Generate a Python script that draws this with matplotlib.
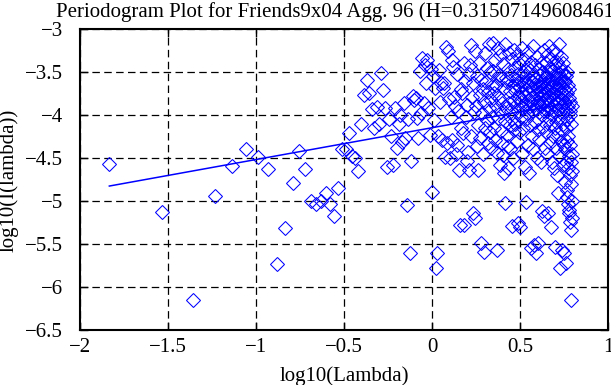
import numpy as np
import matplotlib
matplotlib.use("Agg")
import matplotlib.pyplot as plt

# ---- data ----
title = "Periodogram Plot for Friends9x04 Agg. 96 (H=0.315071496084612)"
x_label = "log10(Lambda)"
y_label = "log10(I(lambda))"

FREQ_N = 428          # length of series -> Fourier frequencies 2*pi*k/N
H = 0.315071496084612
fit_slope = 1 - 2 * H
fit_intercept = -4.148

x_ticks = [-2, -1.5, -1, -0.5, 0, 0.5, 1]
y_ticks = [-6.5, -6, -5.5, -5, -4.5, -4, -3.5, -3]

# log10 periodogram values, in order of frequency index k = 1, 2, ...
logI_k1_40 = [-4.57, -5.13, -6.15, -4.94, -4.59, -4.39, -4.49, -4.63, -5.73, -5.31,
              -4.79, -4.42, -4.63, -5.00, -5.04, -5.00, -4.91, -5.04, -5.17, -4.85,
              -4.39, -4.39, -4.21, -4.48, -4.50, -4.65, -4.11, -3.77, -3.59, -3.75,
              -3.93, -4.15, -3.91, -4.10, -3.51, -3.71, -3.92, -4.60, -4.05, -4.25]
logI_k41_68 = [-4.58, -3.92, -4.38, -4.11, -4.00, -4.31, -3.86, -4.27, -5.05, -4.05,
               -5.60, -4.54, -3.78, -3.82, -3.80, -4.03, -4.27, -3.49, -3.98, -3.34,
               -3.86, -3.42, -3.63, -3.36, -3.92, -4.23, -3.47, -4.90]
logI_k69_100 = [-3.55, -4.06, -3.69, -5.78, -5.61, -4.25, -3.48, -3.85, -3.63, -4.29,
                -3.69, -3.63, -4.49, -3.21, -4.33, -3.26, -3.81, -4.50, -4.02, -3.36,
                -4.29, -3.44, -3.79, -3.90, -4.45, -3.52, -4.35, -3.95, -4.64, -5.28,
                -3.70, -4.15]
logI_k101_150 = [-3.75, -4.21, -5.28, -3.40, -3.61, -4.02, -4.54, -3.88, -4.43, -3.52,
                 -4.64, -3.42, -4.25, -3.19, -3.79, -5.14, -3.63, -3.96, -5.20, -3.26,
                 -3.90, -4.36, -3.55, -4.64, -4.12, -3.40, -3.77, -4.27, -5.49, -3.59,
                 -3.98, -4.45, -3.70, -5.59, -3.85, -3.28, -4.15, -3.62, -4.06, -3.45,
                 -3.73, -4.33, -3.17, -3.92, -4.20, -3.50, -3.83, -4.38, -3.66, -4.02]
logI_k151_200 = [-3.16, -3.49, -4.15, -3.74, -3.36, -4.29, -3.90, -3.65, -4.44, -5.57,
                 -3.22, -4.03, -3.80, -3.53, -4.58, -3.30, -4.19, -3.96, -3.58, -4.33,
                 -3.86, -4.46, -3.41, -4.67, -3.69, -3.18, -4.07, -5.02, -3.92, -3.57,
                 -4.23, -3.62, -4.36, -3.47, -4.62, -3.86, -3.28, -4.12, -3.72, -4.40,
                 -3.54, -3.95, -5.29, -3.35, -4.05, -3.66, -4.50, -3.82, -3.25, -4.18]
logI_k201_300 = [-3.45, -3.72, -4.10, -3.58, -3.88, -3.30, -4.30, -3.65, -5.26, -3.95,
                 -3.52, -3.80, -4.20, -3.40, -3.68, -5.30, -4.02, -3.60, -3.85, -3.22,
                 -4.45, -3.75, -3.50, -3.92, -4.15, -3.62, -3.35, -3.78, -4.60, -3.55,
                 -3.87, -5.01, -3.70, -4.05, -3.44, -3.63, -3.98, -3.27, -4.35, -3.82,
                 -3.58, -4.68, -3.74, -3.90, -3.48, -4.12, -3.66, -5.55, -3.84, -3.38,
                 -4.25, -3.61, -3.79, -3.95, -3.20, -3.70, -4.40, -3.55, -5.51, -3.88,
                 -3.64, -4.08, -3.42, -3.76, -3.93, -5.61, -3.57, -4.50, -3.69, -3.32,
                 -3.85, -4.18, -3.60, -5.49, -3.73, -3.97, -3.46, -4.28, -3.81, -3.66,
                 -3.53, -3.90, -4.55, -3.71, -3.39, -4.00, -3.77, -5.12, -3.62, -3.86,
                 -4.14, -3.50, -3.74, -5.18, -3.95, -3.24, -4.38, -3.68, -3.83, -3.57]
logI_k301_385 = [-3.55, -3.80, -4.20, -3.40, -3.95, -3.65, -4.45, -3.30, -3.72, -5.14,
                 -3.88, -3.50, -4.05, -3.62, -3.20, -3.78, -4.32, -3.58, -3.92, -3.45,
                 -4.12, -3.68, -5.30, -3.85, -3.35, -4.55, -3.74, -3.60, -4.00, -3.48,
                 -3.82, -4.25, -3.25, -3.66, -3.97, -4.62, -3.53, -3.76, -4.15, -3.42,
                 -5.53, -3.90, -3.63, -4.38, -3.28, -3.71, -4.08, -3.57, -3.86, -4.70,
                 -3.38, -3.69, -4.91, -3.94, -3.51, -4.22, -3.79, -3.18, -3.64, -4.48,
                 -3.84, -3.56, -5.78, -4.02, -3.44, -3.73, -4.30, -3.60, -3.89, -3.33,
                 -4.18, -3.67, -5.57, -3.81, -3.49, -4.58, -3.75, -3.96, -3.40, -4.10,
                 -3.62, -5.61, -3.87, -4.35, -3.54]
logI_k386_427 = [-3.60, -4.40, -3.85, -4.78, -3.70, -4.15, -5.72, -3.55, -4.55, -3.95,
                 -4.87, -3.75, -4.30, -3.50, -4.95, -4.05, -3.65, -4.62, -5.03, -3.90,
                 -4.25, -3.80, -5.10, -4.48, -3.70, -5.14, -4.00, -4.70, -3.85, -5.24,
                 -4.35, -3.95, -6.15, -4.55, -5.34, -4.10, -4.80, -3.90, -5.00, -4.45,
                 -5.20, -4.65]

log_I = np.array(logI_k1_40 + logI_k41_68 + logI_k69_100 + logI_k101_150 +
                 logI_k151_200 + logI_k201_300 + logI_k301_385 + logI_k386_427)
k = np.arange(1, len(log_I) + 1)
log_lambda = np.log10(2 * np.pi * k / FREQ_N)

# ---- figure ----
W, Hpx = 611, 385
fig = plt.figure(figsize=(W / 100, Hpx / 100), dpi=100)
ax = fig.add_axes([80 / W, 1 - 330 / Hpx, (608 - 80) / W, (330 - 29) / Hpx])

plt.rcParams['font.family'] = ['Liberation Serif', 'DejaVu Serif']
fs = 15

blue = '#0000ff'
ax.plot(log_lambda, log_I, linestyle='none', marker='D', markersize=7.6,
        markerfacecolor='none', markeredgecolor=blue, markeredgewidth=0.75, zorder=3)
xf = np.array([log_lambda.min(), log_lambda.max()])
ax.plot(xf, fit_intercept + fit_slope * xf, color=blue, linewidth=1.1, zorder=4)

ax.set_xlim(-2, 1)
ax.set_ylim(-6.5, -3)
ax.set_xticks(x_ticks)
ax.set_yticks(y_ticks)
ax.set_xticklabels(['\u22122', '\u22121.5', '\u22121', '\u22120.5', '0', '0.5', '1'],
                   family='Liberation Serif', fontsize=fs)
ax.set_yticklabels(['\u22126.5', '\u22126', '\u22125.5', '\u22125', '\u22124.5', '\u22124',
                    '\u22123.5', '\u22123'], family='Liberation Serif', fontsize=fs)
ax.tick_params(direction='in', length=5.5, width=1.0, top=True, right=True,
               color='black')
ax.tick_params(axis='x', pad=6)
ax.tick_params(axis='y', pad=12)
ax.grid(True, color='black', linewidth=0.9, linestyle=(0, (6, 3.5)), zorder=1)
ax.set_axisbelow(True)
for s in ax.spines.values():
    s.set_linewidth(1.5)
    s.set_color('black')

cx = (80 + 608) / 2 / W
fig.text(cx, 1 - 12 / Hpx, title, ha='center', va='center', fontsize=fs,
         family='Liberation Serif')
fig.text(cx, 1 - 376 / Hpx, x_label, ha='center', va='center', fontsize=fs,
         family='Liberation Serif')
fig.text(9 / W, 1 - 180 / Hpx, y_label, ha='center', va='center', rotation=90,
         fontsize=fs, family='Liberation Serif')

fig.savefig('out.png', dpi=100)
